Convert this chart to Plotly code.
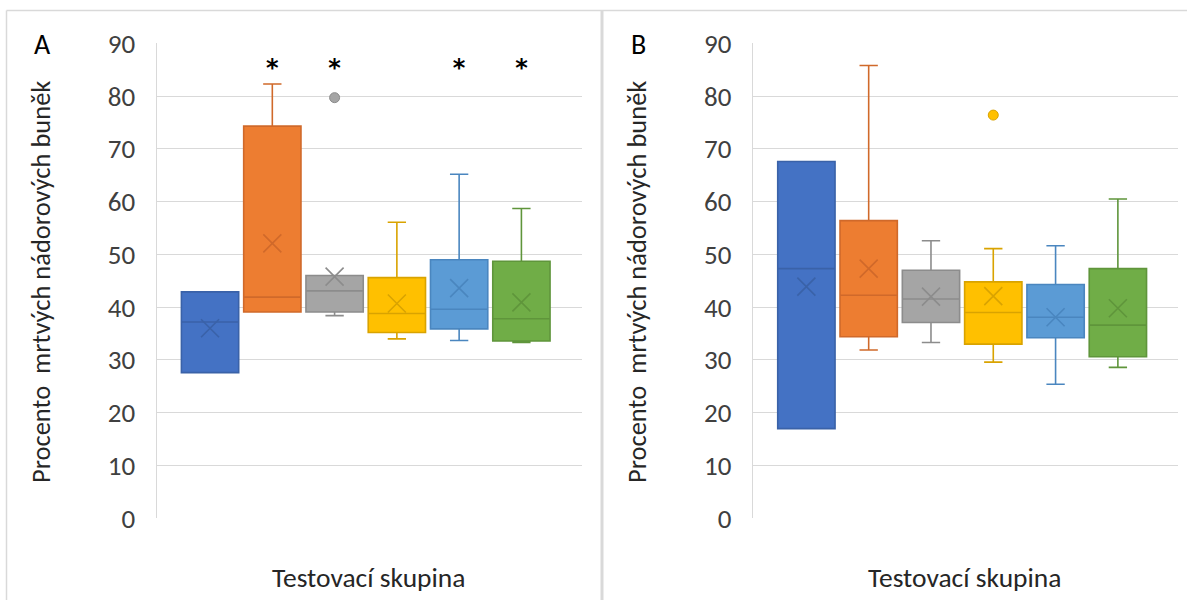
import plotly.graph_objects as go

# Box statistics per test group (percent of dead tumour cells)
colors = ["#4472C4", "#ED7D31", "#A5A5A5", "#FFC000", "#5B9BD5", "#70AD47"]
line_colors = ["#3A62A8", "#D0692A", "#8C8C8C", "#D9A300", "#4A86BF", "#5F953B"]

a_lower = [27.6, 39.1, 38.4, 34.0, 33.7, 33.3]
a_q1 = [27.6, 39.1, 39.1, 35.2, 35.9, 33.6]
a_median = [37.2, 41.9, 43.1, 38.8, 39.6, 37.8]
a_q3 = [42.9, 74.3, 46.0, 45.6, 49.0, 48.7]
a_upper = [42.9, 82.3, 46.0, 56.1, 65.2, 58.7]
a_mean = [36.0, 52.1, 45.8, 40.7, 43.6, 40.9]
a_outliers = [[], [], [79.7], [], [], []]
a_significance = ["", "*", "*", "", "*", "*"]

b_lower = [17.0, 31.9, 33.3, 29.6, 25.4, 28.6]
b_q1 = [17.0, 34.4, 37.1, 33.0, 34.2, 30.6]
b_median = [47.3, 42.25, 41.55, 39.0, 38.1, 36.6]
b_q3 = [67.6, 56.4, 47.0, 44.8, 44.3, 47.3]
b_upper = [67.6, 85.8, 52.6, 51.1, 51.65, 60.5]
b_mean = [43.9, 47.3, 42.0, 42.1, 38.1, 39.8]
b_outliers = [[], [], [], [76.4], [], []]
b_significance = ["", "", "", "", "", ""]

panel_labels = ["A", "B"]
y_ticks = [0, 10, 20, 30, 40, 50, 60, 70, 80, 90]
x_title = "Testovací skupina"
y_title = "Procento\u00a0 mrtvých nádorových buněk"
sig_level = 85.0

FONT = "Carlito, 'Liberation Sans Narrow', Roboto, sans-serif"
W, H = 1187, 600

fig = go.Figure()

panels = [
    (a_lower, a_q1, a_median, a_q3, a_upper, a_mean, a_outliers, a_significance),
    (b_lower, b_q1, b_median, b_q3, b_upper, b_mean, b_outliers, b_significance),
]

for p, (lo, q1, med, q3, up, mean, outl, sig) in enumerate(panels):
    xa = "x" if p == 0 else "x2"
    ya = "y" if p == 0 else "y2"
    for i in range(len(colors)):
        pos = i + 1
        fig.add_trace(go.Box(
            x=[pos], q1=[q1[i]], median=[med[i]], q3=[q3[i]],
            lowerfence=[lo[i]], upperfence=[up[i]],
            width=0.92, whiskerwidth=0.32,
            fillcolor=colors[i],
            line=dict(color=line_colors[i], width=1.6),
            boxpoints=False, showlegend=False, hoverinfo="skip",
            xaxis=xa, yaxis=ya,
        ))
        # mean marker
        fig.add_trace(go.Scatter(
            x=[pos], y=[mean[i]], mode="markers",
            marker=dict(symbol="x-thin-open", size=18, color=line_colors[i],
                        line=dict(color=line_colors[i], width=1.6)),
            showlegend=False, hoverinfo="skip", xaxis=xa, yaxis=ya,
        ))
        if outl[i]:
            fig.add_trace(go.Scatter(
                x=[pos] * len(outl[i]), y=outl[i], mode="markers",
                marker=dict(symbol="circle", size=10, color=colors[i],
                            line=dict(color=line_colors[i], width=1)),
                showlegend=False, hoverinfo="skip", xaxis=xa, yaxis=ya,
            ))
    sig_x = [i + 1 for i, s in enumerate(sig) if s]
    if sig_x:
        fig.add_trace(go.Scatter(
            x=sig_x, y=[sig_level] * len(sig_x), mode="text",
            text=[s for s in sig if s], textposition="middle center",
            textfont=dict(family="DejaVu Sans", size=24, color="#000000",
                          weight="bold"),
            showlegend=False, hoverinfo="skip", xaxis=xa, yaxis=ya,
        ))


def px_x(v):
    return v / W


def px_y(v):
    return 1 - v / H


y_domain = [px_y(518.3), px_y(43.3)]
x_domains = [[px_x(156.5), px_x(581.5)], [px_x(752.8), px_x(1178)]]

axis_common_x = dict(range=[0.14, 6.965], showticklabels=False, showgrid=False,
                     zeroline=False, showline=False, ticks="", fixedrange=True,
                     automargin=False)
axis_common_y = dict(range=[0, 90], tickvals=y_ticks, showgrid=True,
                     gridcolor="#D9D9D9", gridwidth=1, zeroline=False,
                     showline=True, linecolor="#D9D9D9", linewidth=1,
                     ticks="", ticklabelstandoff=15, automargin=False,
                     tickfont=dict(family=FONT, size=27, color="#404040"))

fig.update_layout(
    width=W, height=H, margin=dict(l=0, r=0, t=0, b=0, pad=0, autoexpand=False),
    paper_bgcolor="white", plot_bgcolor="white",
    boxmode="overlay",
    xaxis=dict(domain=x_domains[0], anchor="y", **axis_common_x),
    yaxis=dict(domain=y_domain, anchor="x", **axis_common_y),
    xaxis2=dict(domain=x_domains[1], anchor="y2", **axis_common_x),
    yaxis2=dict(domain=y_domain, anchor="x2", **axis_common_y),
)

annotations = []
shapes = []
panel_offsets = [0, 596]
for p, off in enumerate(panel_offsets):
    annotations.append(dict(
        x=px_x(42 + off), y=px_y(44), xref="paper", yref="paper",
        text=panel_labels[p], showarrow=False, xanchor="center", yanchor="middle",
        font=dict(family=FONT, size=28, color="#000000")))
    annotations.append(dict(
        x=px_x(368.5 + off), y=px_y(577), xref="paper", yref="paper",
        text=x_title, showarrow=False, xanchor="center", yanchor="middle",
        font=dict(family=FONT, size=27.5, color="#262626")))
    annotations.append(dict(
        x=px_x(41 + off), y=px_y(282), xref="paper", yref="paper",
        text=y_title, showarrow=False, textangle=-90,
        xanchor="center", yanchor="middle",
        font=dict(family=FONT, size=26.5, color="#262626")))

# chart-area borders
border = dict(color="#D9D9D9", width=1.5)
shapes.append(dict(type="line", xref="paper", yref="paper",
                   x0=px_x(6.5), x1=1, y0=px_y(10.5), y1=px_y(10.5), line=border))
shapes.append(dict(type="line", xref="paper", yref="paper",
                   x0=px_x(6.5), x1=px_x(6.5), y0=px_y(10.5), y1=0, line=border))
shapes.append(dict(type="line", xref="paper", yref="paper",
                   x0=px_x(602), x1=px_x(602), y0=px_y(10.5), y1=0,
                   line=dict(color="#D9D9D9", width=3)))

fig.update_layout(annotations=annotations, shapes=shapes)

fig.write_html("out.html")
